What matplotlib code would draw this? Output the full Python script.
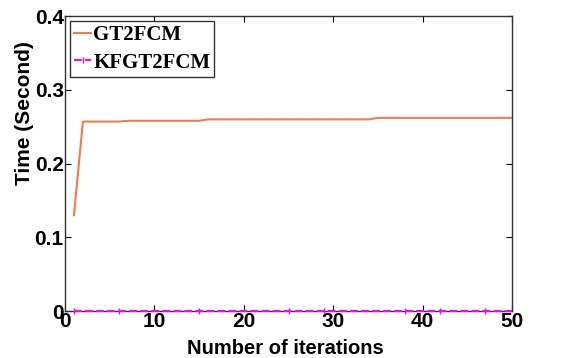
import numpy as np
import matplotlib
matplotlib.use('Agg')
import matplotlib.pyplot as plt

## iteration numbers and run times
iterations = list(range(1, 51))
gt2fcm = ([0.130] + [0.257] * 5 + [0.258] * 9 + [0.260] * 19 + [0.262] * 16)
kfgt2fcm = [0.0] * 50
marker_idx = [0, 5, 14, 24, 28, 37, 41, 46]

xticks = [0, 10, 20, 30, 40, 50]
yticks = [0, 0.1, 0.2, 0.3, 0.4]
yticklabels = ['0', '0.1', '0.2', '0.3', '0.4']

fig = plt.figure(figsize=(5.62, 3.58), dpi=100)
ax = fig.add_axes([0.1157, 0.131, 0.7953, 0.824])

ax.plot(iterations, gt2fcm, color='#f27b4f', lw=1.5, label='GT2FCM')
ax.plot(iterations, kfgt2fcm, color='#ff00ff', lw=1.5, ls='--', marker='|',
	ms=5, markevery=marker_idx, label='KFGT2FCM', clip_on=False, zorder=5)

ax.set_xlim(0, 50)
ax.set_ylim(0, 0.4)
ax.set_xticks(xticks)
ax.set_yticks(yticks)
ax.set_yticklabels(yticklabels)
ax.tick_params(direction='in', top=True, right=True, length=4, width=0.8,
	labelsize=15, pad=1)
for lab in ax.get_xticklabels() + ax.get_yticklabels():
	lab.set_fontweight('bold')
	lab.set_family('Liberation Sans')
for s in ax.spines.values():
	s.set_linewidth(1.0)
	s.set_color('#333333')

ax.set_xlabel('Number of iterations', fontsize=14.5, fontweight='bold',
	family='Liberation Sans')
ax.xaxis.set_label_coords(0.492, -0.095)
ax.set_ylabel('Time (Second)', fontsize=15, fontweight='bold',
	family='Liberation Sans')
ax.yaxis.set_label_coords(-0.07, 0.671)

leg = ax.legend(loc='upper left', prop={'family': 'Liberation Serif',
	'weight': 'bold', 'size': 15}, handlelength=0.8, handletextpad=0.1,
	borderpad=0.2, labelspacing=0.35, fancybox=False, framealpha=1,
	borderaxespad=0.25)
leg.get_frame().set_edgecolor('#333333')
leg.get_frame().set_linewidth(1.0)

fig.savefig('out.png', dpi=100)
